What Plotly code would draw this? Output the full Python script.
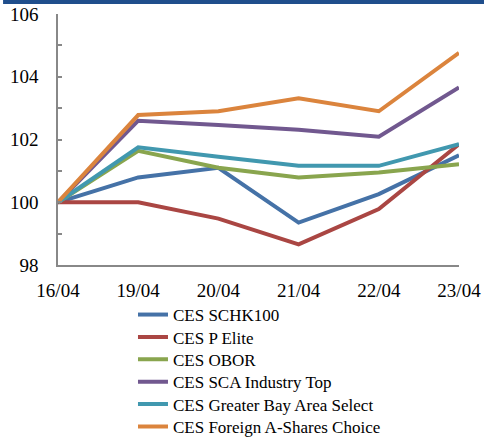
import plotly.graph_objects as go

dates = ["16/04", "19/04", "20/04", "21/04", "22/04", "23/04"]
schk100 = [100, 100.79, 101.1, 99.35, 100.26, 101.5]
p_elite = [100, 100.0, 99.48, 98.66, 99.78, 101.85]
obor = [100, 101.64, 101.1, 100.79, 100.95, 101.21]
sca_top = [100, 102.6, 102.46, 102.31, 102.09, 103.66]
gba = [100, 101.75, 101.45, 101.16, 101.16, 101.85]
foreign = [100, 102.78, 102.9, 103.31, 102.9, 104.76]

series = [
    ("CES SCHK100", schk100, "#4572A7"),
    ("CES P Elite", p_elite, "#AA4643"),
    ("CES OBOR", obor, "#89A54E"),
    ("CES SCA Industry Top", sca_top, "#71588F"),
    ("CES Greater Bay Area Select", gba, "#4198AF"),
    ("CES Foreign A-Shares Choice", foreign, "#DB843D"),
]

fam = "Times New Roman"
fig = go.Figure()
legends = {}
for i, (name, vals, color) in enumerate(series):
    lid = "legend" if i == 0 else f"legend{i + 1}"
    fig.add_trace(go.Scatter(x=dates, y=vals, name=name, mode="lines", legend=lid,
                             line=dict(color=color, width=4)))
    legends[lid] = dict(x=0.187, y=-0.1275 - 0.0892 * i, xanchor="left", yanchor="top",
                        font=dict(family=fam, size=17, color="black"),
                        bgcolor="rgba(0,0,0,0)", borderwidth=0)

fig.update_layout(
    width=484, height=448,
    margin=dict(l=58, r=25, t=14, b=183, autoexpand=False),
    paper_bgcolor="white", plot_bgcolor="white",
    font=dict(family=fam, size=19, color="black"),
    showlegend=True,
    xaxis=dict(type="category", range=[0, 5], showgrid=False,
               showline=True, linecolor="#888888", linewidth=1.5,
               ticks="", tickfont=dict(family=fam, size=19), ticklabelstandoff=7),
    yaxis=dict(range=[98, 106], dtick=2, showgrid=False, zeroline=False,
               showline=True, linecolor="#888888", linewidth=1.5,
               ticks="inside", ticklen=4, tickcolor="#888888", tickwidth=1.5,
               minor=dict(dtick=1, ticks="inside", ticklen=4, tickcolor="#888888", tickwidth=1.5),
               tickfont=dict(family=fam, size=19), ticklabelstandoff=14),
    shapes=[dict(type="rect", xref="paper", yref="paper",
                 x0=-0.137, x1=1.07, y0=1.0398, y1=1.06,
                 fillcolor="#1F4E8C", line=dict(width=0))],
    **legends,
)

fig.write_html("out.html", config={"displayModeBar": False},
               post_script="document.body.style.margin='0px';")
